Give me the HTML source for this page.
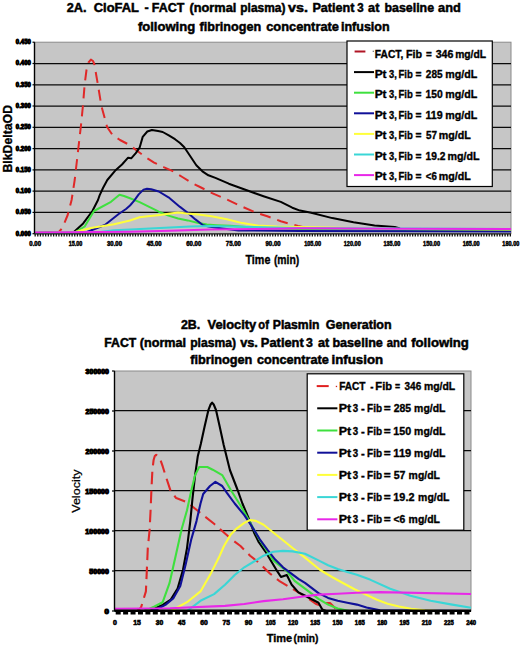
<!DOCTYPE html>
<html><head><meta charset="utf-8"><style>
html,body{margin:0;padding:0;background:#fff;}
svg{display:block;}
text{font-family:"Liberation Sans", sans-serif;}
</style></head><body>
<svg width="520" height="647" viewBox="0 0 520 647">
<rect x="0" y="0" width="520" height="647" fill="#fff"/>
<text x="66.65" y="12.0" font-size="13.0" font-weight="bold" textLength="19.79" lengthAdjust="spacingAndGlyphs" stroke="#000" stroke-width="0.5">2A.</text>
<text x="93.78" y="12.0" font-size="13.0" font-weight="bold" textLength="45.10" lengthAdjust="spacingAndGlyphs" stroke="#000" stroke-width="0.5">CloFAL</text>
<text x="144.40" y="12.0" font-size="13.0" font-weight="bold" textLength="4.18" lengthAdjust="spacingAndGlyphs" stroke="#000" stroke-width="0.5">-</text>
<text x="151.79" y="12.0" font-size="13.0" font-weight="bold" textLength="32.55" lengthAdjust="spacingAndGlyphs" stroke="#000" stroke-width="0.5">FACT</text>
<text x="189.46" y="12.0" font-size="13.0" font-weight="bold" textLength="46.90" lengthAdjust="spacingAndGlyphs" stroke="#000" stroke-width="0.5">(normal</text>
<text x="240.32" y="12.0" font-size="13.0" font-weight="bold" textLength="45.06" lengthAdjust="spacingAndGlyphs" stroke="#000" stroke-width="0.5">plasma)</text>
<text x="288.13" y="12.0" font-size="13.0" font-weight="bold" textLength="19.98" lengthAdjust="spacingAndGlyphs" stroke="#000" stroke-width="0.5">vs.</text>
<text x="312.38" y="12.0" font-size="13.0" font-weight="bold" textLength="42.00" lengthAdjust="spacingAndGlyphs" stroke="#000" stroke-width="0.5">Patient</text>
<text x="357.31" y="12.0" font-size="13.0" font-weight="bold" textLength="6.40" lengthAdjust="spacingAndGlyphs" stroke="#000" stroke-width="0.5">3</text>
<text x="368.12" y="12.0" font-size="13.0" font-weight="bold" textLength="11.26" lengthAdjust="spacingAndGlyphs" stroke="#000" stroke-width="0.5">at</text>
<text x="384.50" y="12.0" font-size="13.0" font-weight="bold" textLength="49.56" lengthAdjust="spacingAndGlyphs" stroke="#000" stroke-width="0.5">baseline</text>
<text x="438.02" y="12.0" font-size="13.0" font-weight="bold" textLength="22.75" lengthAdjust="spacingAndGlyphs" stroke="#000" stroke-width="0.5">and</text>
<text x="137.90" y="30.7" font-size="13.0" font-weight="bold" textLength="57.28" lengthAdjust="spacingAndGlyphs" stroke="#000" stroke-width="0.5">following</text>
<text x="199.51" y="30.7" font-size="13.0" font-weight="bold" textLength="61.59" lengthAdjust="spacingAndGlyphs" stroke="#000" stroke-width="0.5">fibrinogen</text>
<text x="266.19" y="30.7" font-size="13.0" font-weight="bold" textLength="72.75" lengthAdjust="spacingAndGlyphs" stroke="#000" stroke-width="0.5">concentrate</text>
<text x="340.92" y="30.7" font-size="13.0" font-weight="bold" textLength="48.77" lengthAdjust="spacingAndGlyphs" stroke="#000" stroke-width="0.5">infusion</text>
<rect x="34.5" y="42.2" width="476.5" height="191.5" fill="#c6c6c6" stroke="#8a8a8a" stroke-width="1"/>
<line x1="34.5" y1="63.5" x2="511.0" y2="63.5" stroke="#0a0a0a" stroke-width="1.25"/>
<line x1="34.5" y1="84.8" x2="511.0" y2="84.8" stroke="#0a0a0a" stroke-width="1.25"/>
<line x1="34.5" y1="106.0" x2="511.0" y2="106.0" stroke="#0a0a0a" stroke-width="1.25"/>
<line x1="34.5" y1="127.3" x2="511.0" y2="127.3" stroke="#0a0a0a" stroke-width="1.25"/>
<line x1="34.5" y1="148.6" x2="511.0" y2="148.6" stroke="#0a0a0a" stroke-width="1.25"/>
<line x1="34.5" y1="169.9" x2="511.0" y2="169.9" stroke="#0a0a0a" stroke-width="1.25"/>
<line x1="34.5" y1="191.1" x2="511.0" y2="191.1" stroke="#0a0a0a" stroke-width="1.25"/>
<line x1="34.5" y1="212.4" x2="511.0" y2="212.4" stroke="#0a0a0a" stroke-width="1.25"/>
<polyline points="34.5,233.0 58.0,233.0 62.3,228.0 67.7,215.0 71.6,200.0 74.7,180.0 77.0,160.0 79.3,140.0 80.8,127.0 82.9,106.0 84.7,84.0 86.5,70.0 88.5,62.5 90.9,59.6 93.0,61.0 94.3,64.0 97.8,84.0 101.4,106.0 107.1,127.0 112.5,135.0 120.0,140.0 130.0,145.2 136.0,150.0 146.1,157.5 154.1,162.6 164.2,167.3 172.2,170.8 182.3,177.0 192.3,183.3 200.0,187.0 211.5,192.8 226.9,199.5 242.3,206.7 255.8,212.5 267.3,216.3 280.8,221.2 290.4,224.0 298.0,226.0 310.0,228.5" fill="none" stroke="#e02828" stroke-width="2.0" stroke-linejoin="round" stroke-dasharray="11,7"/>
<polyline points="34.5,233.0 73.9,232.0 83.2,223.4 92.4,211.0 98.0,200.0 99.6,195.4 103.0,188.0 107.3,180.0 115.0,170.8 122.0,164.5 128.1,157.7 131.2,158.3 135.8,153.1 139.6,147.7 142.7,136.9 147.3,131.5 151.9,130.0 158.1,131.1 162.7,132.0 168.8,135.4 175.0,139.2 180.0,143.0 184.3,147.2 190.3,156.2 196.3,165.3 202.4,171.3 208.4,175.3 215.4,177.9 228.8,183.7 248.1,190.8 263.5,196.2 280.8,201.9 292.3,207.7 300.0,210.6 311.2,212.8 332.3,218.1 353.5,222.3 374.6,225.5 394.8,227.0 400.0,228.5" fill="none" stroke="#000000" stroke-width="2.0" stroke-linejoin="round"/>
<polyline points="34.5,233.0 75.4,232.0 84.7,226.5 94.0,211.0 111.0,201.8 119.5,194.8 124.0,196.0 130.0,198.3 139.6,202.1 149.2,206.9 158.8,211.7 168.5,215.6 178.1,218.5 187.7,220.4 197.3,222.7 206.9,224.6 216.5,225.2 230.0,225.8 257.7,227.9 300.0,229.0 400.0,230.0 511.0,230.0" fill="none" stroke="#3ee03e" stroke-width="2.0" stroke-linejoin="round"/>
<polyline points="34.5,233.0 87.0,232.0 104.8,225.0 118.7,214.0 126.0,209.0 130.0,205.5 133.8,201.2 138.7,194.4 143.5,189.6 147.0,188.8 151.2,189.2 158.8,191.5 168.5,197.3 180.0,206.9 187.7,212.7 195.4,219.4 203.1,225.2 208.8,226.6 215.0,227.5 238.5,230.4 300.0,231.0 511.0,231.5" fill="none" stroke="#101098" stroke-width="2.0" stroke-linejoin="round"/>
<polyline points="34.5,233.0 75.4,232.0 90.9,228.0 114.0,224.2 130.0,220.5 139.5,217.2 150.1,216.1 160.2,214.9 170.2,213.5 178.2,212.5 186.3,213.5 198.3,214.5 211.5,216.3 226.9,219.2 242.3,223.1 257.7,225.6 276.9,226.5 300.0,227.0 400.0,229.0 511.0,229.5" fill="none" stroke="#ffff3a" stroke-width="2.0" stroke-linejoin="round"/>
<polyline points="34.5,233.0 100.0,232.0 114.0,230.3 130.0,229.5 150.0,228.5 170.0,227.5 190.0,226.5 210.0,226.1 250.0,227.0 300.0,228.0 511.0,229.0" fill="none" stroke="#3ad6d6" stroke-width="2.0" stroke-linejoin="round"/>
<polyline points="34.5,232.6 130.0,231.8 170.0,230.8 210.0,229.5 300.0,228.3 400.0,228.8 511.0,229.0" fill="none" stroke="#e828e8" stroke-width="2.0" stroke-linejoin="round"/>
<line x1="34.5" y1="42.2" x2="34.5" y2="233.7" stroke="#000" stroke-width="1.4"/>
<line x1="34.5" y1="233.89999999999998" x2="511.0" y2="233.89999999999998" stroke="#222" stroke-width="1.1"/>
<line x1="32.5" y1="42.2" x2="34.5" y2="42.2" stroke="#000" stroke-width="1.2"/>
<text x="15.86" y="44.1" font-size="6.4" font-weight="bold" textLength="14.99" lengthAdjust="spacingAndGlyphs" stroke="#000" stroke-width="0.9">0.450</text>
<line x1="32.5" y1="63.5" x2="34.5" y2="63.5" stroke="#000" stroke-width="1.2"/>
<text x="15.86" y="65.4" font-size="6.4" font-weight="bold" textLength="14.99" lengthAdjust="spacingAndGlyphs" stroke="#000" stroke-width="0.9">0.400</text>
<line x1="32.5" y1="84.8" x2="34.5" y2="84.8" stroke="#000" stroke-width="1.2"/>
<text x="15.86" y="86.7" font-size="6.4" font-weight="bold" textLength="14.99" lengthAdjust="spacingAndGlyphs" stroke="#000" stroke-width="0.9">0.350</text>
<line x1="32.5" y1="106.0" x2="34.5" y2="106.0" stroke="#000" stroke-width="1.2"/>
<text x="15.86" y="107.9" font-size="6.4" font-weight="bold" textLength="14.99" lengthAdjust="spacingAndGlyphs" stroke="#000" stroke-width="0.9">0.300</text>
<line x1="32.5" y1="127.3" x2="34.5" y2="127.3" stroke="#000" stroke-width="1.2"/>
<text x="15.86" y="129.2" font-size="6.4" font-weight="bold" textLength="14.99" lengthAdjust="spacingAndGlyphs" stroke="#000" stroke-width="0.9">0.250</text>
<line x1="32.5" y1="148.6" x2="34.5" y2="148.6" stroke="#000" stroke-width="1.2"/>
<text x="15.86" y="150.5" font-size="6.4" font-weight="bold" textLength="14.99" lengthAdjust="spacingAndGlyphs" stroke="#000" stroke-width="0.9">0.200</text>
<line x1="32.5" y1="169.9" x2="34.5" y2="169.9" stroke="#000" stroke-width="1.2"/>
<text x="15.86" y="171.8" font-size="6.4" font-weight="bold" textLength="14.99" lengthAdjust="spacingAndGlyphs" stroke="#000" stroke-width="0.9">0.150</text>
<line x1="32.5" y1="191.1" x2="34.5" y2="191.1" stroke="#000" stroke-width="1.2"/>
<text x="15.86" y="193.0" font-size="6.4" font-weight="bold" textLength="14.99" lengthAdjust="spacingAndGlyphs" stroke="#000" stroke-width="0.9">0.100</text>
<line x1="32.5" y1="212.4" x2="34.5" y2="212.4" stroke="#000" stroke-width="1.2"/>
<text x="15.86" y="214.3" font-size="6.4" font-weight="bold" textLength="14.99" lengthAdjust="spacingAndGlyphs" stroke="#000" stroke-width="0.9">0.050</text>
<line x1="32.5" y1="233.7" x2="34.5" y2="233.7" stroke="#000" stroke-width="1.2"/>
<text x="15.86" y="235.6" font-size="6.4" font-weight="bold" textLength="14.99" lengthAdjust="spacingAndGlyphs" stroke="#000" stroke-width="0.9">0.000</text>
<line x1="34.5" y1="235.29999999999998" x2="511.0" y2="235.29999999999998" stroke="#111" stroke-width="2.4" stroke-dasharray="1.3,1.34"/>
<text x="29.31" y="245.8" font-size="6.8" font-weight="bold" textLength="11.79" lengthAdjust="spacingAndGlyphs" stroke="#000" stroke-width="0.5">0.00</text>
<text x="68.81" y="245.8" font-size="6.8" font-weight="bold" textLength="13.56" lengthAdjust="spacingAndGlyphs" stroke="#000" stroke-width="0.5">15.00</text>
<text x="107.03" y="245.8" font-size="6.8" font-weight="bold" textLength="15.00" lengthAdjust="spacingAndGlyphs" stroke="#000" stroke-width="0.5">30.00</text>
<text x="146.73" y="245.8" font-size="6.8" font-weight="bold" textLength="14.94" lengthAdjust="spacingAndGlyphs" stroke="#000" stroke-width="0.5">45.00</text>
<text x="186.25" y="245.8" font-size="6.8" font-weight="bold" textLength="15.07" lengthAdjust="spacingAndGlyphs" stroke="#000" stroke-width="0.5">60.00</text>
<text x="225.86" y="245.8" font-size="6.8" font-weight="bold" textLength="15.10" lengthAdjust="spacingAndGlyphs" stroke="#000" stroke-width="0.5">75.00</text>
<text x="265.53" y="245.8" font-size="6.8" font-weight="bold" textLength="15.07" lengthAdjust="spacingAndGlyphs" stroke="#000" stroke-width="0.5">90.00</text>
<text x="304.15" y="245.8" font-size="6.8" font-weight="bold" textLength="16.95" lengthAdjust="spacingAndGlyphs" stroke="#000" stroke-width="0.5">105.00</text>
<text x="343.79" y="245.8" font-size="6.8" font-weight="bold" textLength="16.95" lengthAdjust="spacingAndGlyphs" stroke="#000" stroke-width="0.5">120.00</text>
<text x="383.43" y="245.8" font-size="6.8" font-weight="bold" textLength="16.95" lengthAdjust="spacingAndGlyphs" stroke="#000" stroke-width="0.5">135.00</text>
<text x="423.07" y="245.8" font-size="6.8" font-weight="bold" textLength="16.95" lengthAdjust="spacingAndGlyphs" stroke="#000" stroke-width="0.5">150.00</text>
<text x="462.71" y="245.8" font-size="6.8" font-weight="bold" textLength="16.95" lengthAdjust="spacingAndGlyphs" stroke="#000" stroke-width="0.5">165.00</text>
<text x="502.35" y="245.8" font-size="6.8" font-weight="bold" textLength="16.95" lengthAdjust="spacingAndGlyphs" stroke="#000" stroke-width="0.5">180.00</text>
<text x="245.49" y="263.5" font-size="12.2" font-weight="bold" textLength="24.89" lengthAdjust="spacingAndGlyphs" stroke="#000" stroke-width="0.35">Time</text>
<text x="273.88" y="263.5" font-size="12.2" font-weight="bold" textLength="25.38" lengthAdjust="spacingAndGlyphs" stroke="#000" stroke-width="0.35">(min)</text>
<text transform="translate(11.8,172.5) rotate(-90)" x="0" y="0" font-size="12.8" font-weight="bold" textLength="67.5" lengthAdjust="spacingAndGlyphs" stroke="#000" stroke-width="0.35">BlkDeltaOD</text>
<rect x="347" y="41" width="145.3" height="145.5" fill="#fff" stroke="#000" stroke-width="1.2"/>
<line x1="354.6" y1="51.5" x2="365.4" y2="51.5" stroke="#b01525" stroke-width="2"/>
<rect x="372.7" y="50.7" width="1.2" height="1.2" fill="#666"/>
<text x="374.83" y="57.7" font-size="10.8" font-weight="bold" textLength="28.46" lengthAdjust="spacingAndGlyphs" stroke="#000" stroke-width="0.35">FACT,</text>
<text x="405.90" y="57.7" font-size="10.8" font-weight="bold" textLength="16.12" lengthAdjust="spacingAndGlyphs" stroke="#000" stroke-width="0.35">Fib</text>
<text x="426.10" y="57.7" font-size="10.8" font-weight="bold" textLength="5.78" lengthAdjust="spacingAndGlyphs" stroke="#000" stroke-width="0.35">=</text>
<text x="435.74" y="57.7" font-size="10.8" font-weight="bold" textLength="17.67" lengthAdjust="spacingAndGlyphs" stroke="#000" stroke-width="0.35">346</text>
<text x="455.13" y="57.7" font-size="10.8" font-weight="bold" textLength="30.98" lengthAdjust="spacingAndGlyphs" stroke="#000" stroke-width="0.35">mg/dL</text>
<line x1="354" y1="72.1" x2="374" y2="72.1" stroke="#000000" stroke-width="2"/>
<text x="374.73" y="77.8" font-size="10.8" font-weight="bold" textLength="11.85" lengthAdjust="spacingAndGlyphs" stroke="#000" stroke-width="0.35">Pt</text>
<text x="389.07" y="77.8" font-size="10.8" font-weight="bold" textLength="7.78" lengthAdjust="spacingAndGlyphs" stroke="#000" stroke-width="0.35">3,</text>
<text x="398.48" y="77.8" font-size="10.8" font-weight="bold" textLength="14.30" lengthAdjust="spacingAndGlyphs" stroke="#000" stroke-width="0.35">Fib</text>
<text x="415.39" y="77.8" font-size="10.8" font-weight="bold" textLength="6.01" lengthAdjust="spacingAndGlyphs" stroke="#000" stroke-width="0.35">=</text>
<text x="425.85" y="77.8" font-size="10.8" font-weight="bold" textLength="16.74" lengthAdjust="spacingAndGlyphs" stroke="#000" stroke-width="0.35">285</text>
<text x="445.21" y="77.8" font-size="10.8" font-weight="bold" textLength="32.01" lengthAdjust="spacingAndGlyphs" stroke="#000" stroke-width="0.35">mg/dL</text>
<line x1="354" y1="92.7" x2="374" y2="92.7" stroke="#3ee03e" stroke-width="2"/>
<text x="374.73" y="98.3" font-size="10.8" font-weight="bold" textLength="11.85" lengthAdjust="spacingAndGlyphs" stroke="#000" stroke-width="0.35">Pt</text>
<text x="389.07" y="98.3" font-size="10.8" font-weight="bold" textLength="7.78" lengthAdjust="spacingAndGlyphs" stroke="#000" stroke-width="0.35">3,</text>
<text x="398.48" y="98.3" font-size="10.8" font-weight="bold" textLength="14.30" lengthAdjust="spacingAndGlyphs" stroke="#000" stroke-width="0.35">Fib</text>
<text x="415.39" y="98.3" font-size="10.8" font-weight="bold" textLength="6.01" lengthAdjust="spacingAndGlyphs" stroke="#000" stroke-width="0.35">=</text>
<text x="425.58" y="98.3" font-size="10.8" font-weight="bold" textLength="17.16" lengthAdjust="spacingAndGlyphs" stroke="#000" stroke-width="0.35">150</text>
<text x="445.21" y="98.3" font-size="10.8" font-weight="bold" textLength="32.01" lengthAdjust="spacingAndGlyphs" stroke="#000" stroke-width="0.35">mg/dL</text>
<line x1="354" y1="113.3" x2="374" y2="113.3" stroke="#101098" stroke-width="2"/>
<text x="374.73" y="118.8" font-size="10.8" font-weight="bold" textLength="11.85" lengthAdjust="spacingAndGlyphs" stroke="#000" stroke-width="0.35">Pt</text>
<text x="389.07" y="118.8" font-size="10.8" font-weight="bold" textLength="7.78" lengthAdjust="spacingAndGlyphs" stroke="#000" stroke-width="0.35">3,</text>
<text x="398.48" y="118.8" font-size="10.8" font-weight="bold" textLength="14.30" lengthAdjust="spacingAndGlyphs" stroke="#000" stroke-width="0.35">Fib</text>
<text x="415.39" y="118.8" font-size="10.8" font-weight="bold" textLength="6.01" lengthAdjust="spacingAndGlyphs" stroke="#000" stroke-width="0.35">=</text>
<text x="425.56" y="118.8" font-size="10.8" font-weight="bold" textLength="17.15" lengthAdjust="spacingAndGlyphs" stroke="#000" stroke-width="0.35">119</text>
<text x="445.21" y="118.8" font-size="10.8" font-weight="bold" textLength="32.01" lengthAdjust="spacingAndGlyphs" stroke="#000" stroke-width="0.35">mg/dL</text>
<line x1="354" y1="133.9" x2="374" y2="133.9" stroke="#ffff3a" stroke-width="2"/>
<text x="374.73" y="139.3" font-size="10.8" font-weight="bold" textLength="11.85" lengthAdjust="spacingAndGlyphs" stroke="#000" stroke-width="0.35">Pt</text>
<text x="389.07" y="139.3" font-size="10.8" font-weight="bold" textLength="7.78" lengthAdjust="spacingAndGlyphs" stroke="#000" stroke-width="0.35">3,</text>
<text x="398.48" y="139.3" font-size="10.8" font-weight="bold" textLength="14.30" lengthAdjust="spacingAndGlyphs" stroke="#000" stroke-width="0.35">Fib</text>
<text x="415.39" y="139.3" font-size="10.8" font-weight="bold" textLength="6.01" lengthAdjust="spacingAndGlyphs" stroke="#000" stroke-width="0.35">=</text>
<text x="425.90" y="139.3" font-size="10.8" font-weight="bold" textLength="11.02" lengthAdjust="spacingAndGlyphs" stroke="#000" stroke-width="0.35">57</text>
<text x="438.81" y="139.3" font-size="10.8" font-weight="bold" textLength="32.01" lengthAdjust="spacingAndGlyphs" stroke="#000" stroke-width="0.35">mg/dL</text>
<line x1="354" y1="154.5" x2="374" y2="154.5" stroke="#3ad6d6" stroke-width="2"/>
<text x="374.73" y="159.8" font-size="10.8" font-weight="bold" textLength="11.85" lengthAdjust="spacingAndGlyphs" stroke="#000" stroke-width="0.35">Pt</text>
<text x="389.07" y="159.8" font-size="10.8" font-weight="bold" textLength="7.78" lengthAdjust="spacingAndGlyphs" stroke="#000" stroke-width="0.35">3,</text>
<text x="398.48" y="159.8" font-size="10.8" font-weight="bold" textLength="14.30" lengthAdjust="spacingAndGlyphs" stroke="#000" stroke-width="0.35">Fib</text>
<text x="415.39" y="159.8" font-size="10.8" font-weight="bold" textLength="6.01" lengthAdjust="spacingAndGlyphs" stroke="#000" stroke-width="0.35">=</text>
<text x="425.59" y="159.8" font-size="10.8" font-weight="bold" textLength="19.83" lengthAdjust="spacingAndGlyphs" stroke="#000" stroke-width="0.35">19.2</text>
<text x="447.41" y="159.8" font-size="10.8" font-weight="bold" textLength="32.01" lengthAdjust="spacingAndGlyphs" stroke="#000" stroke-width="0.35">mg/dL</text>
<line x1="354" y1="175.1" x2="374" y2="175.1" stroke="#e828e8" stroke-width="2"/>
<text x="374.73" y="180.3" font-size="10.8" font-weight="bold" textLength="11.85" lengthAdjust="spacingAndGlyphs" stroke="#000" stroke-width="0.35">Pt</text>
<text x="389.07" y="180.3" font-size="10.8" font-weight="bold" textLength="7.78" lengthAdjust="spacingAndGlyphs" stroke="#000" stroke-width="0.35">3,</text>
<text x="398.48" y="180.3" font-size="10.8" font-weight="bold" textLength="14.30" lengthAdjust="spacingAndGlyphs" stroke="#000" stroke-width="0.35">Fib</text>
<text x="415.39" y="180.3" font-size="10.8" font-weight="bold" textLength="6.01" lengthAdjust="spacingAndGlyphs" stroke="#000" stroke-width="0.35">=</text>
<text x="425.81" y="180.3" font-size="10.8" font-weight="bold" textLength="11.03" lengthAdjust="spacingAndGlyphs" stroke="#000" stroke-width="0.35">&lt;6</text>
<text x="438.81" y="180.3" font-size="10.8" font-weight="bold" textLength="32.01" lengthAdjust="spacingAndGlyphs" stroke="#000" stroke-width="0.35">mg/dL</text>
<text x="180.96" y="329.3" font-size="12.8" font-weight="bold" textLength="19.36" lengthAdjust="spacingAndGlyphs" stroke="#000" stroke-width="0.5">2B.</text>
<text x="207.54" y="329.3" font-size="12.8" font-weight="bold" textLength="48.73" lengthAdjust="spacingAndGlyphs" stroke="#000" stroke-width="0.5">Velocity</text>
<text x="258.35" y="329.3" font-size="12.8" font-weight="bold" textLength="10.53" lengthAdjust="spacingAndGlyphs" stroke="#000" stroke-width="0.5">of</text>
<text x="272.81" y="329.3" font-size="12.8" font-weight="bold" textLength="46.72" lengthAdjust="spacingAndGlyphs" stroke="#000" stroke-width="0.5">Plasmin</text>
<text x="325.70" y="329.3" font-size="12.8" font-weight="bold" textLength="65.94" lengthAdjust="spacingAndGlyphs" stroke="#000" stroke-width="0.5">Generation</text>
<text x="104.31" y="347.1" font-size="12.8" font-weight="bold" textLength="31.93" lengthAdjust="spacingAndGlyphs" stroke="#000" stroke-width="0.5">FACT</text>
<text x="139.77" y="347.1" font-size="12.8" font-weight="bold" textLength="46.38" lengthAdjust="spacingAndGlyphs" stroke="#000" stroke-width="0.5">(normal</text>
<text x="190.21" y="347.1" font-size="12.8" font-weight="bold" textLength="45.89" lengthAdjust="spacingAndGlyphs" stroke="#000" stroke-width="0.5">plasma)</text>
<text x="240.14" y="347.1" font-size="12.8" font-weight="bold" textLength="17.76" lengthAdjust="spacingAndGlyphs" stroke="#000" stroke-width="0.5">vs.</text>
<text x="260.86" y="347.1" font-size="12.8" font-weight="bold" textLength="42.92" lengthAdjust="spacingAndGlyphs" stroke="#000" stroke-width="0.5">Patient</text>
<text x="305.89" y="347.1" font-size="12.8" font-weight="bold" textLength="6.85" lengthAdjust="spacingAndGlyphs" stroke="#000" stroke-width="0.5">3</text>
<text x="318.02" y="347.1" font-size="12.8" font-weight="bold" textLength="11.26" lengthAdjust="spacingAndGlyphs" stroke="#000" stroke-width="0.5">at</text>
<text x="332.38" y="347.1" font-size="12.8" font-weight="bold" textLength="50.49" lengthAdjust="spacingAndGlyphs" stroke="#000" stroke-width="0.5">baseline</text>
<text x="386.76" y="347.1" font-size="12.8" font-weight="bold" textLength="20.11" lengthAdjust="spacingAndGlyphs" stroke="#000" stroke-width="0.5">and</text>
<text x="411.20" y="347.1" font-size="12.8" font-weight="bold" textLength="57.69" lengthAdjust="spacingAndGlyphs" stroke="#000" stroke-width="0.5">following</text>
<text x="190.21" y="363.8" font-size="12.8" font-weight="bold" textLength="62.20" lengthAdjust="spacingAndGlyphs" stroke="#000" stroke-width="0.5">fibrinogen</text>
<text x="256.89" y="363.8" font-size="12.8" font-weight="bold" textLength="72.04" lengthAdjust="spacingAndGlyphs" stroke="#000" stroke-width="0.5">concentrate</text>
<text x="331.57" y="363.8" font-size="12.8" font-weight="bold" textLength="51.57" lengthAdjust="spacingAndGlyphs" stroke="#000" stroke-width="0.5">infusion</text>
<rect x="114.5" y="371.0" width="356.5" height="240.0" fill="#c6c6c6" stroke="#8a8a8a" stroke-width="1"/>
<line x1="114.5" y1="410.7" x2="471.0" y2="410.7" stroke="#0a0a0a" stroke-width="1.25"/>
<line x1="114.5" y1="450.7" x2="471.0" y2="450.7" stroke="#0a0a0a" stroke-width="1.25"/>
<line x1="114.5" y1="490.7" x2="471.0" y2="490.7" stroke="#0a0a0a" stroke-width="1.25"/>
<line x1="114.5" y1="530.7" x2="471.0" y2="530.7" stroke="#0a0a0a" stroke-width="1.25"/>
<line x1="114.5" y1="570.7" x2="471.0" y2="570.7" stroke="#0a0a0a" stroke-width="1.25"/>
<polyline points="114.5,611.0 137.0,611.0 141.0,607.6 145.9,591.4 147.8,548.1 149.6,530.0 150.6,510.0 151.4,490.0 152.4,470.0 153.6,460.0 154.8,456.0 156.2,454.8 158.2,456.0 160.2,459.2 162.8,466.7 165.4,475.1 170.8,491.4 176.2,498.1 187.0,502.2 200.5,513.0 214.1,523.8 225.0,533.5 232.7,540.2 240.5,546.0 250.1,555.7 259.8,563.4 269.4,573.1 279.1,580.8 288.8,586.6 298.4,592.4 308.8,598.8 316.0,604.0 322.0,606.0 326.0,603.0 330.0,603.0 334.0,607.0 338.0,611.0" fill="none" stroke="#e02828" stroke-width="2.1" stroke-linejoin="round" stroke-dasharray="12.5,6.5"/>
<polyline points="114.5,611.0 143.7,611.0 154.5,608.5 162.7,604.9 170.8,599.5 177.6,588.6 183.0,569.7 187.0,548.1 190.3,521.1 192.4,499.5 195.1,475.1 197.8,456.2 200.8,444.0 204.5,427.0 208.3,410.4 210.6,404.5 212.1,402.6 213.7,404.5 216.0,410.0 219.8,427.0 223.7,445.0 229.9,470.0 237.6,490.0 242.4,503.5 248.2,517.1 254.0,532.5 258.8,542.2 265.6,551.8 271.4,561.5 277.2,571.2 281.0,577.0 286.8,575.0 291.7,584.7 298.4,592.4 304.2,595.3 310.8,598.8 318.5,602.7 322.3,609.4 326.2,611.0 471.0,611.0" fill="none" stroke="#000000" stroke-width="2.1" stroke-linejoin="round"/>
<polyline points="114.5,611.0 145.0,611.0 154.5,606.5 162.7,602.2 169.5,583.2 176.2,553.5 181.6,529.2 187.0,510.3 191.1,491.4 195.1,475.1 199.2,467.0 207.3,467.0 212.7,469.7 222.2,475.1 230.8,490.0 240.5,505.5 248.2,519.0 259.4,539.5 273.3,560.4 286.8,571.2 294.6,580.8 305.0,588.6 318.5,598.8 328.1,604.6 337.7,608.5 349.2,611.0 471.0,611.0" fill="none" stroke="#3ee03e" stroke-width="2.1" stroke-linejoin="round"/>
<polyline points="114.5,611.0 150.0,611.0 157.2,609.0 165.4,604.9 173.5,598.1 180.3,586.0 185.7,564.3 191.1,540.0 196.5,521.1 200.5,503.5 203.2,494.0 210.0,486.0 215.4,481.9 222.2,486.0 226.9,492.9 234.7,503.5 244.3,515.1 252.1,526.7 259.8,539.3 267.5,549.9 275.2,559.6 283.0,567.3 290.7,573.1 298.4,578.9 305.0,582.8 318.5,593.1 328.1,597.9 337.7,600.8 347.3,602.7 356.9,604.6 366.5,607.5 380.0,610.4 471.0,611.0" fill="none" stroke="#101098" stroke-width="2.1" stroke-linejoin="round"/>
<polyline points="114.5,611.0 170.8,611.0 187.0,602.2 200.5,591.4 211.4,572.4 219.5,556.2 224.0,546.0 230.8,534.4 236.6,528.6 244.3,522.9 250.1,520.0 255.9,520.9 263.6,524.8 273.3,532.5 283.0,540.2 292.6,548.0 305.0,557.6 320.2,570.0 332.0,577.0 343.8,583.5 355.0,589.5 367.3,595.3 377.0,599.8 387.5,603.7 399.0,606.5 411.1,608.8 425.0,610.3 440.0,611.0 471.0,611.0" fill="none" stroke="#ffff3a" stroke-width="2.1" stroke-linejoin="round"/>
<polyline points="114.5,611.0 187.0,611.0 200.5,600.8 214.1,594.1 225.0,584.7 234.7,575.0 244.3,567.3 254.0,561.5 263.6,555.7 273.3,551.8 283.0,550.9 292.6,551.4 305.0,553.8 318.5,560.4 328.1,565.2 337.7,569.0 347.3,571.9 356.9,574.8 370.0,579.6 390.2,588.7 410.4,595.7 430.6,600.8 450.8,604.4 471.0,607.8" fill="none" stroke="#3ad6d6" stroke-width="2.1" stroke-linejoin="round"/>
<polyline points="114.5,608.7 170.0,608.2 225.0,605.9 244.3,604.0 263.6,601.1 283.0,599.2 305.0,596.3 318.5,594.6 337.7,593.7 356.9,592.7 380.0,592.1 471.0,594.0" fill="none" stroke="#e828e8" stroke-width="2.1" stroke-linejoin="round"/>
<line x1="114.5" y1="371.0" x2="114.5" y2="611.0" stroke="#000" stroke-width="1.4"/>
<line x1="114.5" y1="610.8" x2="471.0" y2="610.8" stroke="#000" stroke-width="2.4"/>
<line x1="114.5" y1="612.8" x2="471.0" y2="612.8" stroke="#000" stroke-width="3.6" stroke-dasharray="5,2.42" stroke-dashoffset="-1.2"/>
<line x1="112.0" y1="371.0" x2="114.5" y2="371.0" stroke="#000" stroke-width="1.2"/>
<text x="85.63" y="373.9" font-size="6.6" font-weight="bold" textLength="23.27" lengthAdjust="spacingAndGlyphs" stroke="#000" stroke-width="1.0">300000</text>
<line x1="112.0" y1="411.0" x2="114.5" y2="411.0" stroke="#000" stroke-width="1.2"/>
<text x="85.56" y="413.9" font-size="6.6" font-weight="bold" textLength="23.34" lengthAdjust="spacingAndGlyphs" stroke="#000" stroke-width="1.0">250000</text>
<line x1="112.0" y1="451.0" x2="114.5" y2="451.0" stroke="#000" stroke-width="1.2"/>
<text x="85.56" y="453.9" font-size="6.6" font-weight="bold" textLength="23.34" lengthAdjust="spacingAndGlyphs" stroke="#000" stroke-width="1.0">200000</text>
<line x1="112.0" y1="491.0" x2="114.5" y2="491.0" stroke="#000" stroke-width="1.2"/>
<text x="85.38" y="493.9" font-size="6.6" font-weight="bold" textLength="23.52" lengthAdjust="spacingAndGlyphs" stroke="#000" stroke-width="1.0">150000</text>
<line x1="112.0" y1="531.0" x2="114.5" y2="531.0" stroke="#000" stroke-width="1.2"/>
<text x="85.38" y="533.9" font-size="6.6" font-weight="bold" textLength="23.52" lengthAdjust="spacingAndGlyphs" stroke="#000" stroke-width="1.0">100000</text>
<line x1="112.0" y1="571.0" x2="114.5" y2="571.0" stroke="#000" stroke-width="1.2"/>
<text x="89.39" y="573.9" font-size="6.6" font-weight="bold" textLength="19.50" lengthAdjust="spacingAndGlyphs" stroke="#000" stroke-width="1.0">50000</text>
<line x1="112.0" y1="611.0" x2="114.5" y2="611.0" stroke="#000" stroke-width="1.2"/>
<text x="104.48" y="613.9" font-size="6.6" font-weight="bold" textLength="4.45" lengthAdjust="spacingAndGlyphs" stroke="#000" stroke-width="1.0">0</text>
<text x="112.97" y="624.9" font-size="7.0" font-weight="bold" textLength="3.86" lengthAdjust="spacingAndGlyphs" stroke="#000" stroke-width="0.6">0</text>
<text x="133.26" y="624.9" font-size="7.0" font-weight="bold" textLength="7.60" lengthAdjust="spacingAndGlyphs" stroke="#000" stroke-width="0.6">15</text>
<text x="155.77" y="624.9" font-size="7.0" font-weight="bold" textLength="7.45" lengthAdjust="spacingAndGlyphs" stroke="#000" stroke-width="0.6">30</text>
<text x="178.11" y="624.9" font-size="7.0" font-weight="bold" textLength="7.28" lengthAdjust="spacingAndGlyphs" stroke="#000" stroke-width="0.6">45</text>
<text x="200.24" y="624.9" font-size="7.0" font-weight="bold" textLength="7.52" lengthAdjust="spacingAndGlyphs" stroke="#000" stroke-width="0.6">60</text>
<text x="222.48" y="624.9" font-size="7.0" font-weight="bold" textLength="7.45" lengthAdjust="spacingAndGlyphs" stroke="#000" stroke-width="0.6">75</text>
<text x="244.78" y="624.9" font-size="7.0" font-weight="bold" textLength="7.52" lengthAdjust="spacingAndGlyphs" stroke="#000" stroke-width="0.6">90</text>
<text x="265.79" y="624.9" font-size="7.0" font-weight="bold" textLength="9.82" lengthAdjust="spacingAndGlyphs" stroke="#000" stroke-width="0.6">105</text>
<text x="288.05" y="624.9" font-size="7.0" font-weight="bold" textLength="9.92" lengthAdjust="spacingAndGlyphs" stroke="#000" stroke-width="0.6">120</text>
<text x="310.33" y="624.9" font-size="7.0" font-weight="bold" textLength="9.82" lengthAdjust="spacingAndGlyphs" stroke="#000" stroke-width="0.6">135</text>
<text x="332.59" y="624.9" font-size="7.0" font-weight="bold" textLength="9.92" lengthAdjust="spacingAndGlyphs" stroke="#000" stroke-width="0.6">150</text>
<text x="354.87" y="624.9" font-size="7.0" font-weight="bold" textLength="9.82" lengthAdjust="spacingAndGlyphs" stroke="#000" stroke-width="0.6">165</text>
<text x="377.13" y="624.9" font-size="7.0" font-weight="bold" textLength="9.92" lengthAdjust="spacingAndGlyphs" stroke="#000" stroke-width="0.6">180</text>
<text x="399.41" y="624.9" font-size="7.0" font-weight="bold" textLength="9.82" lengthAdjust="spacingAndGlyphs" stroke="#000" stroke-width="0.6">195</text>
<text x="421.83" y="624.9" font-size="7.0" font-weight="bold" textLength="9.76" lengthAdjust="spacingAndGlyphs" stroke="#000" stroke-width="0.6">210</text>
<text x="444.10" y="624.9" font-size="7.0" font-weight="bold" textLength="9.67" lengthAdjust="spacingAndGlyphs" stroke="#000" stroke-width="0.6">225</text>
<text x="466.37" y="624.9" font-size="7.0" font-weight="bold" textLength="9.76" lengthAdjust="spacingAndGlyphs" stroke="#000" stroke-width="0.6">240</text>
<text x="266.69" y="642.3" font-size="11.2" font-weight="bold" textLength="25.51" lengthAdjust="spacingAndGlyphs" stroke="#000" stroke-width="0.35">Time</text>
<text x="293.49" y="642.3" font-size="11.2" font-weight="bold" textLength="25.01" lengthAdjust="spacingAndGlyphs" stroke="#000" stroke-width="0.35">(min)</text>
<text transform="translate(79.8,512.8) rotate(-90)" x="0" y="0" font-size="11.3" textLength="43.3" lengthAdjust="spacingAndGlyphs" stroke="#000" stroke-width="0.25">Velocity</text>
<rect x="307.2" y="373.8" width="156.60000000000002" height="156.40000000000003" fill="#fff" stroke="#000" stroke-width="1.2"/>
<line x1="316.7" y1="386.1" x2="328.7" y2="386.1" stroke="#e02020" stroke-width="2"/>
<rect x="335.8" y="385.8" width="1.3" height="1.3" fill="#d02020"/>
<text x="339.14" y="390.2" font-size="10.8" font-weight="bold" textLength="26.37" lengthAdjust="spacingAndGlyphs" stroke="#000" stroke-width="0.35">FACT</text>
<text x="370.31" y="390.2" font-size="10.8" font-weight="bold" textLength="3.27" lengthAdjust="spacingAndGlyphs" stroke="#000" stroke-width="0.35">-</text>
<text x="375.37" y="390.2" font-size="10.8" font-weight="bold" textLength="16.77" lengthAdjust="spacingAndGlyphs" stroke="#000" stroke-width="0.35">Fib</text>
<text x="394.95" y="390.2" font-size="10.8" font-weight="bold" textLength="5.09" lengthAdjust="spacingAndGlyphs" stroke="#000" stroke-width="0.35">=</text>
<text x="404.55" y="390.2" font-size="10.8" font-weight="bold" textLength="16.63" lengthAdjust="spacingAndGlyphs" stroke="#000" stroke-width="0.35">346</text>
<text x="423.92" y="390.2" font-size="10.8" font-weight="bold" textLength="31.29" lengthAdjust="spacingAndGlyphs" stroke="#000" stroke-width="0.35">mg/dL</text>
<line x1="317.2" y1="408.3" x2="337.4" y2="408.3" stroke="#000000" stroke-width="2"/>
<text x="338.69" y="412.4" font-size="10.8" font-weight="bold" textLength="12.50" lengthAdjust="spacingAndGlyphs" stroke="#000" stroke-width="0.35">Pt</text>
<text x="352.86" y="412.4" font-size="10.8" font-weight="bold" textLength="5.39" lengthAdjust="spacingAndGlyphs" stroke="#000" stroke-width="0.35">3</text>
<text x="360.95" y="412.4" font-size="10.8" font-weight="bold" textLength="3.79" lengthAdjust="spacingAndGlyphs" stroke="#000" stroke-width="0.35">-</text>
<text x="367.05" y="412.4" font-size="10.8" font-weight="bold" textLength="14.94" lengthAdjust="spacingAndGlyphs" stroke="#000" stroke-width="0.35">Fib</text>
<text x="383.72" y="412.4" font-size="10.8" font-weight="bold" textLength="6.94" lengthAdjust="spacingAndGlyphs" stroke="#000" stroke-width="0.35">=</text>
<text x="393.63" y="412.4" font-size="10.8" font-weight="bold" textLength="17.46" lengthAdjust="spacingAndGlyphs" stroke="#000" stroke-width="0.35">285</text>
<text x="414.12" y="412.4" font-size="10.8" font-weight="bold" textLength="31.29" lengthAdjust="spacingAndGlyphs" stroke="#000" stroke-width="0.35">mg/dL</text>
<line x1="317.2" y1="430.5" x2="337.4" y2="430.5" stroke="#3ee03e" stroke-width="2"/>
<text x="338.69" y="434.6" font-size="10.8" font-weight="bold" textLength="12.50" lengthAdjust="spacingAndGlyphs" stroke="#000" stroke-width="0.35">Pt</text>
<text x="352.86" y="434.6" font-size="10.8" font-weight="bold" textLength="5.39" lengthAdjust="spacingAndGlyphs" stroke="#000" stroke-width="0.35">3</text>
<text x="360.95" y="434.6" font-size="10.8" font-weight="bold" textLength="3.79" lengthAdjust="spacingAndGlyphs" stroke="#000" stroke-width="0.35">-</text>
<text x="367.05" y="434.6" font-size="10.8" font-weight="bold" textLength="14.94" lengthAdjust="spacingAndGlyphs" stroke="#000" stroke-width="0.35">Fib</text>
<text x="383.72" y="434.6" font-size="10.8" font-weight="bold" textLength="6.94" lengthAdjust="spacingAndGlyphs" stroke="#000" stroke-width="0.35">=</text>
<text x="393.36" y="434.6" font-size="10.8" font-weight="bold" textLength="17.91" lengthAdjust="spacingAndGlyphs" stroke="#000" stroke-width="0.35">150</text>
<text x="414.12" y="434.6" font-size="10.8" font-weight="bold" textLength="31.29" lengthAdjust="spacingAndGlyphs" stroke="#000" stroke-width="0.35">mg/dL</text>
<line x1="317.2" y1="452.7" x2="337.4" y2="452.7" stroke="#101098" stroke-width="2"/>
<text x="338.69" y="456.8" font-size="10.8" font-weight="bold" textLength="12.50" lengthAdjust="spacingAndGlyphs" stroke="#000" stroke-width="0.35">Pt</text>
<text x="352.86" y="456.8" font-size="10.8" font-weight="bold" textLength="5.39" lengthAdjust="spacingAndGlyphs" stroke="#000" stroke-width="0.35">3</text>
<text x="360.95" y="456.8" font-size="10.8" font-weight="bold" textLength="3.79" lengthAdjust="spacingAndGlyphs" stroke="#000" stroke-width="0.35">-</text>
<text x="367.05" y="456.8" font-size="10.8" font-weight="bold" textLength="14.94" lengthAdjust="spacingAndGlyphs" stroke="#000" stroke-width="0.35">Fib</text>
<text x="383.72" y="456.8" font-size="10.8" font-weight="bold" textLength="6.94" lengthAdjust="spacingAndGlyphs" stroke="#000" stroke-width="0.35">=</text>
<text x="393.33" y="456.8" font-size="10.8" font-weight="bold" textLength="17.89" lengthAdjust="spacingAndGlyphs" stroke="#000" stroke-width="0.35">119</text>
<text x="414.12" y="456.8" font-size="10.8" font-weight="bold" textLength="31.29" lengthAdjust="spacingAndGlyphs" stroke="#000" stroke-width="0.35">mg/dL</text>
<line x1="317.2" y1="474.9" x2="337.4" y2="474.9" stroke="#ffff3a" stroke-width="2"/>
<text x="338.69" y="479.0" font-size="10.8" font-weight="bold" textLength="12.50" lengthAdjust="spacingAndGlyphs" stroke="#000" stroke-width="0.35">Pt</text>
<text x="352.86" y="479.0" font-size="10.8" font-weight="bold" textLength="5.39" lengthAdjust="spacingAndGlyphs" stroke="#000" stroke-width="0.35">3</text>
<text x="360.95" y="479.0" font-size="10.8" font-weight="bold" textLength="3.79" lengthAdjust="spacingAndGlyphs" stroke="#000" stroke-width="0.35">-</text>
<text x="367.05" y="479.0" font-size="10.8" font-weight="bold" textLength="14.94" lengthAdjust="spacingAndGlyphs" stroke="#000" stroke-width="0.35">Fib</text>
<text x="383.72" y="479.0" font-size="10.8" font-weight="bold" textLength="6.94" lengthAdjust="spacingAndGlyphs" stroke="#000" stroke-width="0.35">=</text>
<text x="393.68" y="479.0" font-size="10.8" font-weight="bold" textLength="11.77" lengthAdjust="spacingAndGlyphs" stroke="#000" stroke-width="0.35">57</text>
<text x="408.62" y="479.0" font-size="10.8" font-weight="bold" textLength="31.29" lengthAdjust="spacingAndGlyphs" stroke="#000" stroke-width="0.35">mg/dL</text>
<line x1="317.2" y1="497.1" x2="337.4" y2="497.1" stroke="#3ad6d6" stroke-width="2"/>
<text x="338.69" y="501.2" font-size="10.8" font-weight="bold" textLength="12.50" lengthAdjust="spacingAndGlyphs" stroke="#000" stroke-width="0.35">Pt</text>
<text x="352.86" y="501.2" font-size="10.8" font-weight="bold" textLength="5.39" lengthAdjust="spacingAndGlyphs" stroke="#000" stroke-width="0.35">3</text>
<text x="360.95" y="501.2" font-size="10.8" font-weight="bold" textLength="3.79" lengthAdjust="spacingAndGlyphs" stroke="#000" stroke-width="0.35">-</text>
<text x="367.05" y="501.2" font-size="10.8" font-weight="bold" textLength="14.94" lengthAdjust="spacingAndGlyphs" stroke="#000" stroke-width="0.35">Fib</text>
<text x="383.72" y="501.2" font-size="10.8" font-weight="bold" textLength="6.94" lengthAdjust="spacingAndGlyphs" stroke="#000" stroke-width="0.35">=</text>
<text x="393.35" y="501.2" font-size="10.8" font-weight="bold" textLength="21.10" lengthAdjust="spacingAndGlyphs" stroke="#000" stroke-width="0.35">19.2</text>
<text x="418.12" y="501.2" font-size="10.8" font-weight="bold" textLength="31.29" lengthAdjust="spacingAndGlyphs" stroke="#000" stroke-width="0.35">mg/dL</text>
<line x1="317.2" y1="519.3" x2="337.4" y2="519.3" stroke="#e828e8" stroke-width="2"/>
<text x="338.69" y="523.4" font-size="10.8" font-weight="bold" textLength="12.50" lengthAdjust="spacingAndGlyphs" stroke="#000" stroke-width="0.35">Pt</text>
<text x="352.86" y="523.4" font-size="10.8" font-weight="bold" textLength="5.39" lengthAdjust="spacingAndGlyphs" stroke="#000" stroke-width="0.35">3</text>
<text x="360.95" y="523.4" font-size="10.8" font-weight="bold" textLength="3.79" lengthAdjust="spacingAndGlyphs" stroke="#000" stroke-width="0.35">-</text>
<text x="367.05" y="523.4" font-size="10.8" font-weight="bold" textLength="14.94" lengthAdjust="spacingAndGlyphs" stroke="#000" stroke-width="0.35">Fib</text>
<text x="383.72" y="523.4" font-size="10.8" font-weight="bold" textLength="6.94" lengthAdjust="spacingAndGlyphs" stroke="#000" stroke-width="0.35">=</text>
<text x="393.59" y="523.4" font-size="10.8" font-weight="bold" textLength="11.78" lengthAdjust="spacingAndGlyphs" stroke="#000" stroke-width="0.35">&lt;6</text>
<text x="408.62" y="523.4" font-size="10.8" font-weight="bold" textLength="31.29" lengthAdjust="spacingAndGlyphs" stroke="#000" stroke-width="0.35">mg/dL</text>
</svg></body></html>
